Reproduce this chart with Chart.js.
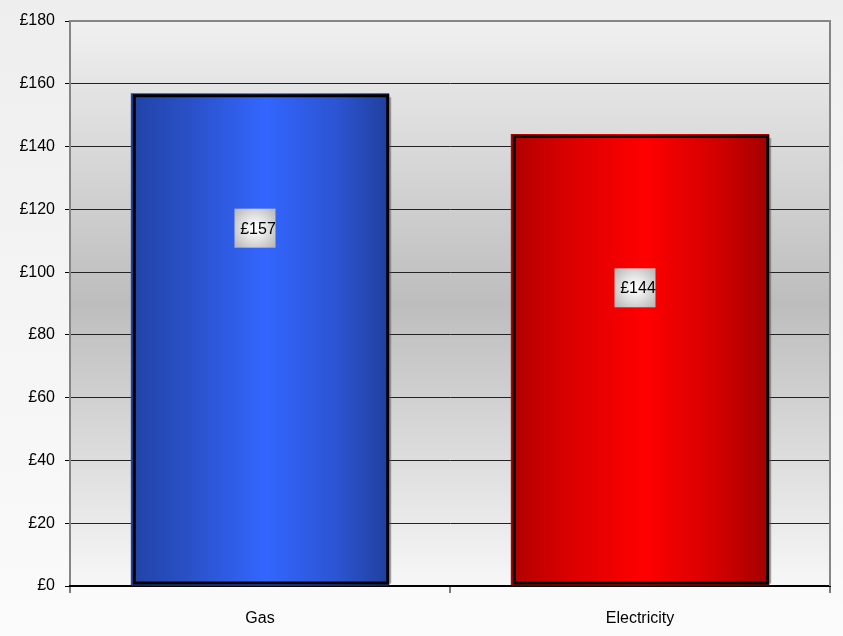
<!DOCTYPE html>
<html>
<head>
<meta charset="utf-8">
<script src="https://cdn.jsdelivr.net/npm/chart.js@4/dist/chart.umd.min.js"></script>
<style>
  html, body { margin: 0; padding: 0; background: #f4f4f4; }
  #wrap { width: 843px; height: 636px; }
</style>
</head>
<body>
<div id="wrap"><canvas id="c" width="843" height="636"></canvas></div>
<script>
// Annual fuel cost by type
const categories = ['Gas', 'Electricity'];
const costs = [157, 144];
const yTicks = [0, 20, 40, 60, 80, 100, 120, 140, 160, 180];

const barShades = [
  ['#2143a6', '#2a50c6', '#3366ff', '#2c54d2', '#203f9c'],
  ['#b00000', '#da0000', '#ff0000', '#d20000', '#a30000']
];
const barStops = [0, 0.22, 0.52, 0.8, 1];

function barGradient(ctx) {
  const chart = ctx.chart;
  const i = ctx.dataIndex;
  const shades = barShades[i % barShades.length];
  if (!chart.chartArea || !chart.scales.x) return shades[2];
  const xs = chart.scales.x;
  const cx = xs.getPixelForValue(i);
  const w = (xs.width / categories.length) * 0.68;
  const g = chart.ctx.createLinearGradient(cx - w / 2, 0, cx + w / 2, 0);
  shades.forEach((c, k) => g.addColorStop(barStops[k], c));
  return g;
}

// Page and plot-area shading
const backdrop = {
  id: 'backdrop',
  beforeDraw(chart) {
    const { ctx, width, height, chartArea: a } = chart;
    ctx.save();
    const pg = ctx.createLinearGradient(0, 0, 0, height);
    pg.addColorStop(0, '#eeeeee');
    pg.addColorStop(1, '#fbfbfb');
    ctx.fillStyle = pg;
    ctx.fillRect(0, 0, width, height);
    const ag = ctx.createLinearGradient(0, a.top, 0, a.bottom);
    ag.addColorStop(0, '#f0f0f0');
    ag.addColorStop(0.5, '#bdbdbd');
    ag.addColorStop(1, '#f7f7f7');
    ctx.fillStyle = ag;
    ctx.fillRect(a.left, a.top, a.right - a.left, a.bottom - a.top);
    ctx.restore();
  }
};

// Plot frame on the right and top edges
const frame = {
  id: 'frame',
  afterDatasetsDraw(chart) {
    const { ctx, chartArea: a } = chart;
    ctx.save();
    ctx.strokeStyle = '#858585';
    ctx.lineWidth = 2;
    ctx.beginPath();
    ctx.moveTo(a.left, a.top);
    ctx.lineTo(a.right, a.top);
    ctx.lineTo(a.right, a.bottom);
    ctx.stroke();
    ctx.restore();
  }
};

// Outline each bar and place its value badge
const barDecor = {
  id: 'barDecor',
  afterDatasetsDraw(chart, args, opts) {
    const { ctx } = chart;
    const meta = chart.getDatasetMeta(0);
    const ys = chart.scales.y;
    ctx.save();
    meta.data.forEach((bar, i) => {
      const l = bar.x - bar.width / 2;
      const r = bar.x + bar.width / 2;
      const t = bar.y;
      const b = bar.base;
      // soft shadow on the right side
      ctx.strokeStyle = 'rgba(90,90,90,0.55)';
      ctx.lineWidth = 2;
      ctx.beginPath();
      ctx.moveTo(r + 1, t + 4);
      ctx.lineTo(r + 1, b - 2);
      ctx.stroke();
      // black outline inset from the bar edge
      ctx.strokeStyle = '#000000';
      ctx.lineWidth = 3;
      ctx.beginPath();
      ctx.moveTo(l + 3.5, b - 2.5);
      ctx.lineTo(l + 3.5, t + 2.5);
      ctx.lineTo(r - 1.5, t + 2.5);
      ctx.lineTo(r - 1.5, b - 2.5);
      ctx.closePath();
      ctx.stroke();

      // value badge
      const level = opts.levels[i];
      const cy = ys.getPixelForValue(level);
      const cx = bar.x - 5;
      const bw = 41, bh = 39;
      const rg = ctx.createRadialGradient(cx, cy, 2, cx, cy, 26);
      rg.addColorStop(0, '#ffffff');
      rg.addColorStop(0.5, '#dedede');
      rg.addColorStop(1, '#b9b9b9');
      ctx.fillStyle = rg;
      ctx.fillRect(cx - bw / 2, cy - bh / 2, bw, bh);
      ctx.fillStyle = '#000000';
      ctx.font = '16px "Liberation Sans", Arial, sans-serif';
      ctx.textAlign = 'center';
      ctx.textBaseline = 'middle';
      ctx.fillText('£' + costs[i], cx + 3, cy + 1);
    });
    ctx.restore();
  }
};

new Chart(document.getElementById('c'), {
  type: 'bar',
  data: {
    labels: categories,
    datasets: [{
      data: costs,
      backgroundColor: barGradient,
      borderWidth: 0,
      categoryPercentage: 1,
      barPercentage: 0.68
    }]
  },
  options: {
    responsive: false,
    animation: false,
    events: [],
    layout: { padding: { top: 21, right: 13, bottom: 0, left: 0 } },
    plugins: {
      legend: { display: false },
      tooltip: { enabled: false },
      barDecor: { levels: [114, 95] }
    },
    scales: {
      y: {
        min: 0,
        max: 180,
        afterBuildTicks(axis) { axis.ticks = yTicks.map(v => ({ value: v })); },
        afterFit(axis) { axis.width = 70; },
        border: { display: true, color: '#858585', width: 2 },
        grid: {
          color: '#222222',
          lineWidth: 1,
          drawTicks: true,
          tickLength: 5,
          tickColor: '#000000'
        },
        ticks: {
          padding: 10,
          color: '#000000',
          font: { family: '"Liberation Sans", Arial, sans-serif', size: 16 },
          callback: v => '£' + v
        }
      },
      x: {
        offset: true,
        afterFit(axis) { axis.height = 50; },
        border: { display: true, color: '#000000', width: 2 },
        grid: {
          offset: true,
          drawOnChartArea: false,
          drawTicks: true,
          tickLength: 7,
          tickColor: '#7a7a7a',
          lineWidth: 2
        },
        ticks: {
          padding: 16,
          color: '#000000',
          font: { family: '"Liberation Sans", Arial, sans-serif', size: 16 }
        }
      }
    }
  },
  plugins: [backdrop, frame, barDecor]
});
</script>
</body>
</html>
